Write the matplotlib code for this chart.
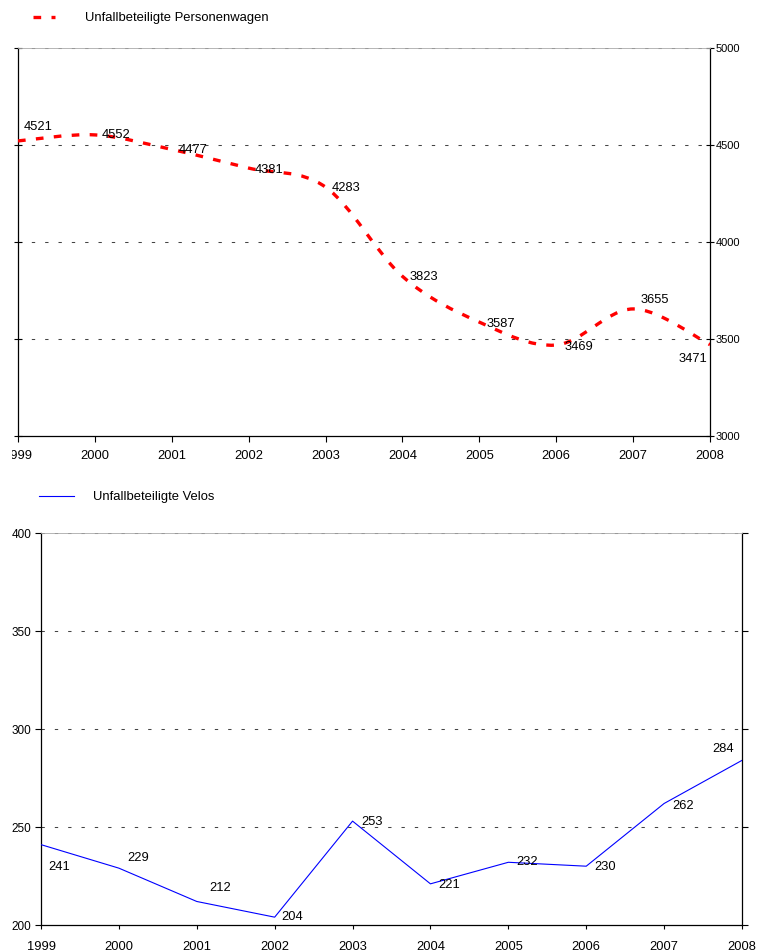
import numpy as np
import matplotlib.pyplot as plt
from matplotlib.path import Path
from matplotlib.patches import PathPatch
from matplotlib.lines import Line2D
from matplotlib.transforms import Bbox

plt.rcParams['font.family'] = ['Liberation Sans', 'DejaVu Sans']

years = [1999, 2000, 2001, 2002, 2003, 2004, 2005, 2006, 2007, 2008]
personenwagen = [4521, 4552, 4477, 4381, 4283, 3823, 3587, 3469, 3655, 3471]
velos = [241, 229, 212, 204, 253, 221, 232, 230, 262, 284]

# label offsets in pixels (dx, dy), dy positive = up
pw_off = [(6, 14, 'left'), (7, 0, 'left'), (7, -1, 'left'), (6, -2, 'left'), (6, -1, 'left'),
          (7, -1, 'left'), (7, -2, 'left'), (8, -2, 'left'), (7, 9, 'left'), (-3, -14, 'right')]
velo_off = [(7, -22, 'left'), (8, 10, 'left'), (13, 13, 'left'), (7, 0, 'left'), (9, -1, 'left'),
            (8, -1, 'left'), (8, 0, 'left'), (8, -1, 'left'), (8, -3, 'left'), (-8, 11, 'right')]

PX = 0.72  # points per pixel at dpi 100
RED = '#FF0000'
BLUE = '#0000FF'
GRID = dict(color='#444444', lw=0.75, ls=(0, (3.2, 9.6)))

fig = plt.figure(figsize=(7.58, 9.52), dpi=100)
ax1 = fig.add_axes([18 / 758, 1 - 436 / 952, (710 - 18) / 758, (436 - 48) / 952])
ax2 = fig.add_axes([41 / 758, 1 - 925 / 952, (742 - 41) / 758, (925 - 533) / 952])


def smooth_path(xs, ys):
    # Excel-like smooth line: Bezier segments with Catmull-Rom control points
    p = np.column_stack([xs, ys]).astype(float)
    n = len(p)
    verts = [p[0]]
    codes = [Path.MOVETO]
    for i in range(n - 1):
        p0 = p[i - 1] if i > 0 else p[i]
        p3 = p[i + 2] if i + 2 < n else p[i + 1]
        c1 = p[i] + (p[i + 1] - p0) / 6
        c2 = p[i + 1] - (p3 - p[i]) / 6
        verts += [c1, c2, p[i + 1]]
        codes += [Path.CURVE4] * 3
    return Path(verts, codes)


# ---- oberes Diagramm ----
ax1.add_patch(PathPatch(smooth_path(years, personenwagen), fill=False, edgecolor=RED,
                        lw=2.4, ls=(0, (2.3, 3.1)), capstyle='butt', zorder=3))
ax1.set_xlim(1999, 2008)
ax1.set_ylim(3000, 5000)
ax1.set_yticks([3000, 3500, 4000, 4500, 5000])
ax1.set_xticks(years)
ax1.yaxis.tick_right()
ax1.tick_params(axis='y', which='both', left=True, right=True, labelleft=False, labelright=True,
                labelsize=8, pad=1, direction='inout', length=6, width=0.8)
ax1.tick_params(axis='x', labelsize=9.3, pad=6, direction='out', length=4, width=0.8)
for y in [3500, 4000, 4500, 5000]:
    ax1.axhline(y, **GRID, zorder=1)
ax1.spines['top'].set_color('#aaaaaa')
ax1.spines['top'].set_linewidth(0.6)
for s in ['left', 'right', 'bottom']:
    ax1.spines[s].set_linewidth(0.9)
for x, y, (dx, dy, ha) in zip(years, personenwagen, pw_off):
    ax1.annotate(str(y), (x, y), xytext=(dx * PX, dy * PX), textcoords='offset points',
                 ha=ha, va='center', fontsize=9.3, annotation_clip=False, zorder=4)

# ---- unteres Diagramm ----
ax2.plot(years, velos, color=BLUE, lw=0.8, zorder=3)
ax2.set_xlim(1999, 2008)
ax2.set_ylim(200, 400)
ax2.set_yticks([200, 250, 300, 350, 400])
ax2.set_xticks(years)
ax2.tick_params(axis='y', left=True, right=True, labelsize=8.5, pad=3,
                direction='out', length=4, width=0.8)
ax2.tick_params(axis='x', labelsize=9.3, pad=8.5, direction='out', length=3, width=0.8)
for y in [250, 300, 350, 400]:
    ax2.axhline(y, **GRID, zorder=1)
ax2.spines['top'].set_color('#aaaaaa')
ax2.spines['top'].set_linewidth(0.6)
for s in ['left', 'right', 'bottom']:
    ax2.spines[s].set_linewidth(0.9)
for x, y, (dx, dy, ha) in zip(years, velos, velo_off):
    ax2.annotate(str(y), (x, y), xytext=(dx * PX, dy * PX), textcoords='offset points',
                 ha=ha, va='center', fontsize=9.3, annotation_clip=False, zorder=4)

# ---- Legenden ----
h1 = Line2D([], [], color=RED, lw=2.4, ls=(0, (2.3, 3.1)))
fig.legend([h1], ['Unfallbeteiligte Personenwagen'], loc='center left',
           bbox_to_anchor=(33 / 758, 1 - 18 / 952), frameon=False, fontsize=9.4,
           handlelength=1.65, handletextpad=2.3, borderpad=0, borderaxespad=0)
h2 = Line2D([], [], color=BLUE, lw=0.8)
fig.legend([h2], ['Unfallbeteiligte Velos'], loc='center left',
           bbox_to_anchor=(39 / 758, 1 - 497 / 952), frameon=False, fontsize=9.4,
           handlelength=2.7, handletextpad=1.4, borderpad=0, borderaxespad=0)

# erstes Jahr oben links abgeschnitten wie im Original
fig.canvas.draw()
lbl = ax1.get_xticklabels()[0]
lbl.set_clip_box(Bbox.from_extents(12, 0, 758, 952))
lbl.set_clip_on(True)

fig.savefig('out.png', dpi=100)
